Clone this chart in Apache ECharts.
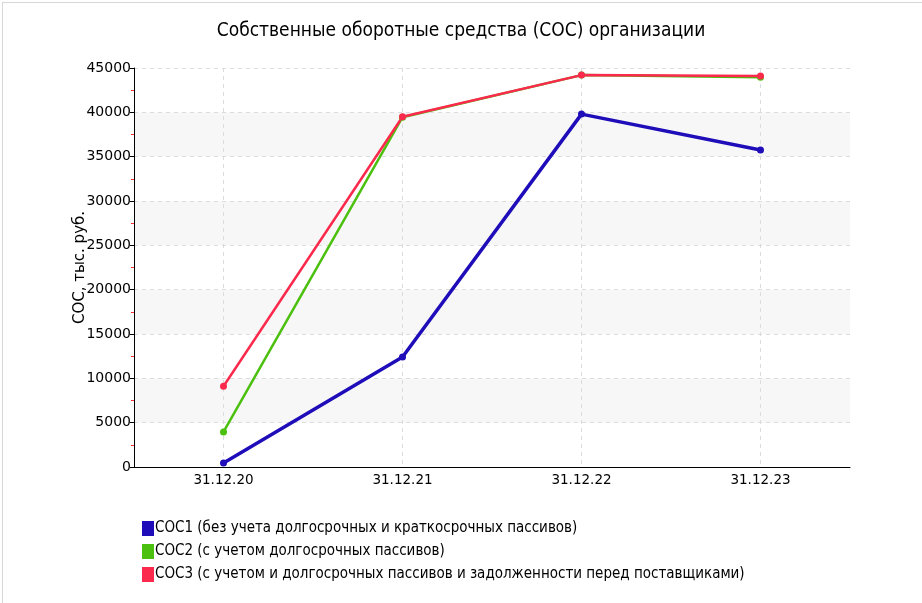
<!DOCTYPE html>
<html>
<head>
<meta charset="utf-8">
<script src="https://cdn.jsdelivr.net/npm/echarts@6/dist/echarts.min.js"></script>
<style>
  html, body { margin: 0; padding: 0; background: #fff; }
  #frame { position: absolute; left: 2px; top: 2px; width: 920px; height: 601px;
           border-top: 1px solid #d8d8d8; border-left: 1px solid #d8d8d8; }
  #chart { position: absolute; left: 0; top: 0; width: 922px; height: 603px; }
</style>
</head>
<body>
<div id="frame"></div>
<div id="chart"></div>
<script>
// даты отчётных периодов
const dates = ['31.12.20', '31.12.21', '31.12.22', '31.12.23'];

// значения СОС, тыс. руб.
const soc1 = [450, 12400, 39800, 35750];
const soc2 = [3950, 39450, 44200, 43950];
const soc3 = [9100, 39500, 44200, 44100];

const seriesNames = [
  'СОС1 (без учета долгосрочных и краткосрочных пассивов)',
  'СОС2 (с учетом долгосрочных пассивов)',
  'СОС3 (с учетом и долгосрочных пассивов и задолженности перед поставщиками)'
];

const chart = echarts.init(document.getElementById('chart'), null, { renderer: 'canvas' });

const lineOf = (name, data, color, width) => ({
  name: name,
  type: 'line',
  data: data,
  symbol: 'circle',
  symbolSize: 7,
  lineStyle: { width: width, color: color },
  itemStyle: { color: color },
  emphasis: { disabled: true },
  animation: false
});

const option = {
  backgroundColor: 'transparent',
  title: {
    text: 'Собственные оборотные средства (СОС) организации',
    left: 'center',
    top: 17,
    textStyle: { fontFamily: 'DejaVu Sans Condensed', fontSize: 19, fontWeight: 'normal', color: '#000' }
  },
  legend: {
    orient: 'vertical',
    left: 137,
    top: 516,
    icon: 'rect',
    itemWidth: 12,
    itemHeight: 15,
    itemGap: 8,
    itemStyle: { borderWidth: 0 },
    textStyle: { fontFamily: 'DejaVu Sans Condensed', fontSize: 15, color: '#000', padding: [0, 0, 0, -4] },
    data: seriesNames
  },
  grid: { left: 134, right: 72, top: 68, bottom: 136 },
  xAxis: {
    type: 'category',
    data: dates,
    boundaryGap: true,
    axisLine: { lineStyle: { color: '#000', width: 1 } },
    axisTick: { alignWithLabel: true, length: 4, lineStyle: { color: '#000' } },
    axisLabel: { fontFamily: 'DejaVu Sans', fontSize: 13.5, color: '#000', margin: 6 },
    splitLine: { show: true, alignWithLabel: true, lineStyle: { type: [4, 4], color: '#dcdcdc' } }
  },
  yAxis: {
    type: 'value',
    min: 0,
    max: 45000,
    interval: 5000,
    name: 'СОС, тыс. руб.',
    nameLocation: 'middle',
    nameGap: 46,
    nameMoveOverlap: false,
    nameTextStyle: { fontFamily: 'DejaVu Sans', fontSize: 15, color: '#000' },
    axisLine: { show: true, lineStyle: { color: '#000', width: 1 } },
    axisTick: { show: true, length: 4, lineStyle: { color: '#000' } },
    minorTick: { show: true, splitNumber: 2, length: 3, lineStyle: { color: '#ff3030' } },
    axisLabel: { fontFamily: 'DejaVu Sans', fontSize: 14, color: '#000', margin: 3, formatter: v => String(v) },
    splitLine: { show: true, lineStyle: { type: [4, 4], color: '#dcdcdc' } },
    splitArea: { show: true, areaStyle: { color: ['rgba(255,255,255,0)', '#f7f7f7'] } }
  },
  series: [
    lineOf(seriesNames[0], soc1, '#1e0db8', 3.5),
    lineOf(seriesNames[1], soc2, '#4cc00e', 2.5),
    lineOf(seriesNames[2], soc3, '#fb2a4c', 2.5)
  ]
};

chart.setOption(option);
</script>
</body>
</html>
